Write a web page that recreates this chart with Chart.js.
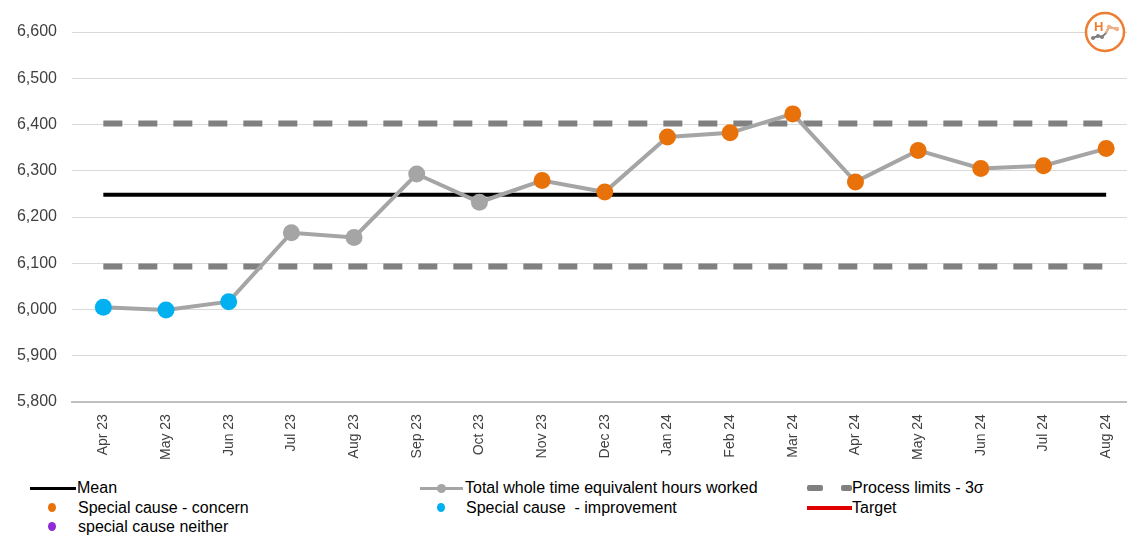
<!DOCTYPE html>
<html>
<head>
<meta charset="utf-8">
<script src="https://cdn.jsdelivr.net/npm/chart.js@4"></script>
<style>
  html, body { margin: 0; padding: 0; background: #fff; overflow: hidden; }
  body { width: 1127px; height: 546px; position: relative; font-family: "Liberation Sans", Arial, sans-serif; }
  #wrap { position: absolute; left: 0; top: 0; width: 1146px; height: 476px; }
  .lg { position: absolute; font-size: 16px; color: #000; line-height: 18px; white-space: pre; }
  .mk { position: absolute; }
  #logo { position: absolute; left: 1082px; top: 9px; }
</style>
</head>
<body>
<div id="wrap"><canvas id="chart"></canvas></div>

<svg id="logo" width="46" height="46" viewBox="0 0 46 46">
  <circle cx="23" cy="23" r="19" fill="#fff" stroke="#ED7D31" stroke-width="2.5"/>
  <text x="12" y="22" font-family="Liberation Sans, Arial" font-weight="bold" font-size="13" fill="#ED7D31">H</text>
  <polyline points="11,29 16,27 20,28 24,24 27,18 31,19 35,20" fill="none" stroke="#7F7F7F" stroke-width="2"/>
  <polyline points="24,24 27,18 31,19 35,20" fill="none" stroke="#F4B183" stroke-width="2"/>
  <circle cx="11" cy="29" r="2" fill="#7F7F7F"/>
  <circle cx="16" cy="27" r="2" fill="#7F7F7F"/>
  <circle cx="20" cy="28" r="2" fill="#7F7F7F"/>
  <circle cx="27" cy="18" r="2.2" fill="#F4B183"/>
  <circle cx="35" cy="20" r="2.2" fill="#F4B183"/>
</svg>

<!-- legend -->
<div class="mk" style="left:30px;top:487px;width:46px;height:3px;background:#000"></div>
<div class="lg" style="left:77px;top:479px">Mean</div>
<div class="mk" style="left:48px;top:503px;width:8px;height:9px;border-radius:50%;background:#E8710A"></div>
<div class="lg" style="left:78px;top:499px">Special cause - concern</div>
<div class="mk" style="left:48px;top:522px;width:8px;height:9px;border-radius:50%;background:#8F2BD6"></div>
<div class="lg" style="left:78px;top:518px">special cause neither</div>

<div class="mk" style="left:420px;top:487px;width:43px;height:3px;background:#A5A5A5"></div>
<div class="mk" style="left:437px;top:484px;width:9px;height:9px;border-radius:50%;background:#A5A5A5"></div>
<div class="lg" style="left:465px;top:479px">Total whole time equivalent hours worked</div>
<div class="mk" style="left:437px;top:503px;width:8px;height:9px;border-radius:50%;background:#00B0F0"></div>
<div class="lg" style="left:466px;top:499px">Special cause  - improvement</div>

<div class="mk" style="left:807px;top:485px;width:16px;height:6px;border-radius:2px;background:#808080"></div>
<div class="mk" style="left:841px;top:485px;width:11px;height:6px;border-radius:2px;background:#808080"></div>
<div class="lg" style="left:852px;top:479px">Process limits - 3σ</div>
<div class="mk" style="left:807px;top:506px;width:45px;height:4px;background:#E00000"></div>
<div class="lg" style="left:852px;top:499px">Target</div>

<script>
// SPC chart - total WTE hours worked
var months = ['Apr 23', 'May 23', 'Jun 23', 'Jul 23', 'Aug 23', 'Sep 23', 'Oct 23', 'Nov 23', 'Dec 23',
              'Jan 24', 'Feb 24', 'Mar 24', 'Apr 24', 'May 24', 'Jun 24', 'Jul 24', 'Aug 24'];
var hours = [6005, 5999, 6017, 6166, 6156, 6293, 6232, 6279, 6254, 6373, 6382, 6423, 6276, 6344, 6305, 6311, 6348];
// variation type of each point
var cause = ['improvement', 'improvement', 'improvement', 'common', 'common', 'common', 'common',
             'concern', 'concern', 'concern', 'concern', 'concern', 'concern', 'concern', 'concern', 'concern', 'concern'];
var mean_val = 6248;
var upper_limit = 6402;
var lower_limit = 6093;
var y_ticks = [5800, 5900, 6000, 6100, 6200, 6300, 6400, 6500, 6600];

var cause_colors = {
  improvement: '#00B0F0',
  concern: '#E8710A',
  neither: '#8F2BD6',
  common: '#A5A5A5'
};
var point_colors = cause.map(function(c) { return cause_colors[c]; });

var mean_line = months.map(function() { return mean_val; });
var upper_line = months.map(function() { return upper_limit; });
var lower_line = months.map(function() { return lower_limit; });

var ctx = document.getElementById('chart');
window.myChart = new Chart(ctx, {
  type: 'line',
  data: {
    labels: months,
    datasets: [
      {
        label: 'Total whole time equivalent hours worked',
        data: hours,
        borderColor: '#A5A5A5',
        borderWidth: 4,
        pointRadius: 8.5,
        pointHoverRadius: 8.5,
        pointBackgroundColor: point_colors,
        pointBorderColor: point_colors,
        pointBorderWidth: 0,
        tension: 0
      },
      {
        label: 'Mean',
        data: mean_line,
        borderColor: '#000000',
        borderWidth: 4,
        pointRadius: 0
      },
      {
        label: 'Process limits - 3σ',
        data: upper_line,
        borderColor: '#808080',
        borderWidth: 6,
        borderDash: [19, 16],
        pointRadius: 0
      },
      {
        label: 'Process limits - 3σ',
        data: lower_line,
        borderColor: '#808080',
        borderWidth: 6,
        borderDash: [19, 16],
        pointRadius: 0
      }
    ]
  },
  options: {
    responsive: true,
    maintainAspectRatio: false,
    animation: false,
    layout: {
      padding: { top: 32, left: 10, right: 0, bottom: 4 }
    },
    scales: {
      x: {
        offset: true,
        grid: { display: false, drawTicks: false },
        border: { display: true, color: '#BFBFBF', width: 2 },
        ticks: {
          autoSkip: false,
          minRotation: 90,
          maxRotation: 90,
          padding: 12,
          color: '#404040',
          font: { family: 'Liberation Sans', size: 14 }
        }
      },
      y: {
        min: 5800,
        max: 6600,
        afterBuildTicks: function(scale) {
          scale.ticks = y_ticks.map(function(v) { return { value: v }; });
        },
        afterFit: function(scale) {
          scale.width = 62;
        },
        grid: { color: '#D9D9D9', lineWidth: 1, drawTicks: false },
        border: { display: false },
        ticks: {
          padding: 15,
          color: '#404040',
          font: { family: 'Liberation Sans', size: 16 },
          callback: function(v) { return v.toLocaleString('en-GB'); }
        }
      }
    },
    plugins: {
      legend: { display: false },
      tooltip: { enabled: false }
    }
  }
});
</script>
</body>
</html>
